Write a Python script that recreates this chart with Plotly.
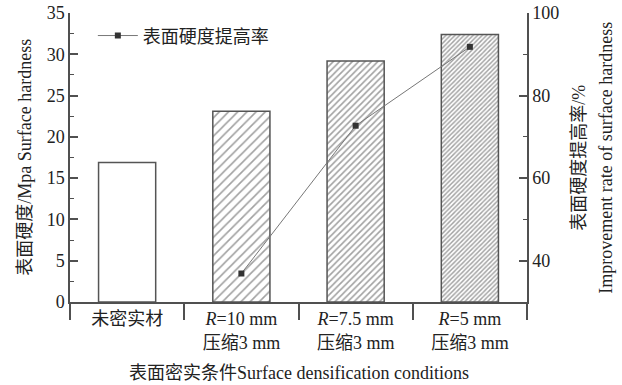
import plotly.graph_objects as go

categories = ["未密实材", "<i>R</i>=10 mm<br>压缩3 mm", "<i>R</i>=7.5 mm<br>压缩3 mm", "<i>R</i>=5 mm<br>压缩3 mm"]
hardness = [16.9, 23.1, 29.2, 32.4]
improve_x = [1, 2, 3]
improve_rate = [36.9, 72.7, 91.8]
left_ticks = [0, 5, 10, 15, 20, 25, 30, 35]
right_ticks = [40, 60, 80, 100]

FONT = "Liberation Serif, 'Noto Sans CJK SC', serif"
AX = "#505050"
TXT = "#222222"

fig = go.Figure()
fig.add_trace(go.Bar(
    x=list(range(len(categories))), y=hardness, width=0.5,
    marker=dict(
        color="white",
        line=dict(color="#555555", width=1.5),
        pattern=dict(shape=["", "/", "/", "/"], size=[6.5, 6.5, 4.5, 3.2],
                     solidity=[0.25, 0.25, 0.35, 0.45],
                     fgcolor="#444444", bgcolor="white", fillmode="overlay"),
    ),
    showlegend=False,
))
fig.add_trace(go.Scatter(
    x=improve_x, y=improve_rate, yaxis="y2", mode="lines+markers",
    name="表面硬度提高率",
    line=dict(color="#777777", width=1),
    marker=dict(symbol="square", size=6, color="#333333"),
))

fig.update_layout(
    width=622, height=385,
    margin=dict(l=70, r=95, t=13, b=83, autoexpand=False),
    paper_bgcolor="white", plot_bgcolor="white",
    font=dict(family=FONT, size=18, color=TXT),
    xaxis=dict(
        range=[-0.5, 3.5], tickmode="array", tickvals=list(range(len(categories))),
        ticktext=categories, ticks="", showline=True, linecolor=AX, linewidth=1.5,
        showgrid=False, zeroline=False, tickfont=dict(size=18), automargin=False,
        minor=dict(tickmode="array", tickvals=[-0.5, 0.5, 1.5, 2.5, 3.5],
                   ticks="outside", ticklen=16, tickcolor=AX, tickwidth=1.5, showgrid=False),
    ),
    yaxis=dict(
        range=[0, 35], tickvals=left_ticks, ticks="inside", ticklen=8, tickcolor=AX,
        tickwidth=1.5, showline=True, linecolor=AX, linewidth=1.5, showgrid=False,
        zeroline=False, tickfont=dict(size=18), automargin=False,
        minor=dict(dtick=2.5, tick0=0, ticks="inside", ticklen=4, tickcolor=AX, tickwidth=1.2, showgrid=False),
    ),
    yaxis2=dict(
        range=[30, 100], tickvals=right_ticks, overlaying="y", side="right",
        ticks="inside", ticklen=8, tickcolor=AX, tickwidth=1.5, showline=True,
        linecolor=AX, linewidth=1.5, showgrid=False, zeroline=False, tickfont=dict(size=18),
        automargin=False,
        minor=dict(dtick=10, tick0=0, ticks="inside", ticklen=4, tickcolor=AX, tickwidth=1.2, showgrid=False),
    ),
    legend=dict(x=0.05, y=0.985, xanchor="left", yanchor="top", bgcolor="rgba(0,0,0,0)",
                font=dict(size=18), itemwidth=40),
    annotations=[
        dict(text="表面硬度/Mpa Surface hardness", textangle=-90, xref="paper", yref="paper",
             x=-0.1, y=0.5, xanchor="center", yanchor="middle", showarrow=False,
             font=dict(size=18)),
        dict(text="表面硬度提高率/%", textangle=-90, xref="paper", yref="paper",
             x=1.112, y=0.5, xanchor="center", yanchor="middle", showarrow=False,
             font=dict(size=18)),
        dict(text="Improvement rate of surface hardness", textangle=-90, xref="paper", yref="paper",
             x=1.171, y=0.5, xanchor="center", yanchor="middle", showarrow=False,
             font=dict(size=18)),
        dict(text="表面密实条件Surface densification conditions", xref="paper", yref="paper",
             x=0.5, y=-0.245, xanchor="center", yanchor="middle", showarrow=False,
             font=dict(size=18)),
    ],
)

fig.write_html("out.html", config={"displayModeBar": False},
               post_script="document.body.style.margin='0';document.body.style.overflow='hidden';")
